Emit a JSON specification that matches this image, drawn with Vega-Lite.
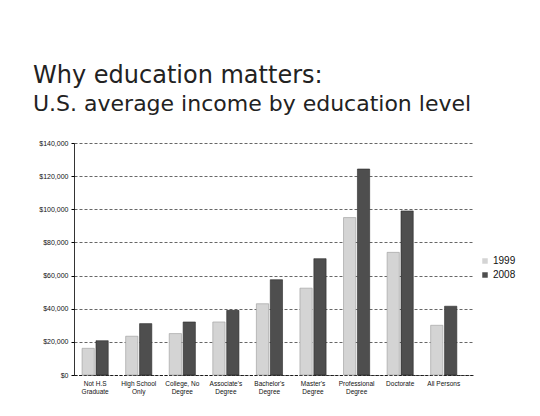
{
  "$schema": "https://vega.github.io/schema/vega-lite/v6.json",
  "width": 400,
  "height": 232,
  "padding": {"left": 33, "top": 64, "right": 5, "bottom": 5},
  "background": "white",
  "title": {
    "text": "Why education matters:",
    "subtitle": "U.S. average income by education level",
    "anchor": "start",
    "frame": "bounds",
    "font": "DejaVu Sans",
    "fontSize": 24,
    "fontWeight": "normal",
    "color": "#222222",
    "subtitleFont": "DejaVu Sans",
    "subtitleFontSize": 22,
    "subtitleColor": "#222222",
    "subtitlePadding": 6,
    "offset": 24
  },
  "data": {
    "values": [
      {"edu": "Not H.S Graduate", "year": "1999", "income": 16100},
      {"edu": "Not H.S Graduate", "year": "2008", "income": 20700},
      {"edu": "High School Only", "year": "1999", "income": 23400},
      {"edu": "High School Only", "year": "2008", "income": 31000},
      {"edu": "College, No Degree", "year": "1999", "income": 25000},
      {"edu": "College, No Degree", "year": "2008", "income": 32000},
      {"edu": "Associate's Degree", "year": "1999", "income": 32000},
      {"edu": "Associate's Degree", "year": "2008", "income": 39000},
      {"edu": "Bachelor's Degree", "year": "1999", "income": 43000},
      {"edu": "Bachelor's Degree", "year": "2008", "income": 57500},
      {"edu": "Master's Degree", "year": "1999", "income": 52400},
      {"edu": "Master's Degree", "year": "2008", "income": 70200},
      {"edu": "Professional Degree", "year": "1999", "income": 95000},
      {"edu": "Professional Degree", "year": "2008", "income": 124300},
      {"edu": "Doctorate", "year": "1999", "income": 74000},
      {"edu": "Doctorate", "year": "2008", "income": 99000},
      {"edu": "All Persons", "year": "1999", "income": 30000},
      {"edu": "All Persons", "year": "2008", "income": 41500}
    ]
  },
  "mark": {"type": "bar", "strokeWidth": 0.6},
  "encoding": {
    "x": {
      "field": "edu",
      "type": "nominal",
      "sort": null,
      "title": null,
      "scale": {"paddingInner": 0.4, "paddingOuter": 0.29, "align": 0.32},
      "axis": {
        "labelAngle": 0,
        "labelFont": "Liberation Sans",
        "labelFontSize": 6.5,
        "labelColor": "#111111",
        "labelExpr": "indexof(datum.label, ' ') < 0 || datum.label == 'All Persons' ? datum.label : [substring(datum.label, 0, lastindexof(datum.label, ' ')), substring(datum.label, lastindexof(datum.label, ' ') + 1)]",
        "labelLineHeight": 8,
        "labelPadding": 5,
        "ticks": false,
        "domainColor": "#000000",
        "domainDash": [3, 1.5],
        "domainWidth": 0.8
      }
    },
    "xOffset": {"field": "year", "type": "nominal", "scale": {"paddingInner": 0.12}},
    "y": {
      "field": "income",
      "type": "quantitative",
      "title": null,
      "scale": {"domain": [0, 140000]},
      "axis": {
        "values": [0, 20000, 40000, 60000, 80000, 100000, 120000, 140000],
        "format": "$,d",
        "labelFont": "Liberation Sans",
        "labelFontSize": 7,
        "labelColor": "#111111",
        "tickSize": 3,
        "tickColor": "#000000",
        "labelPadding": 3,
        "minExtent": 41,
        "maxExtent": 41,
        "domainColor": "#000000",
        "domainWidth": 0.8,
        "grid": true,
        "gridColor": "#000000",
        "gridDash": [3, 2],
        "gridWidth": 0.6
      }
    },
    "color": {
      "field": "year",
      "type": "nominal",
      "scale": {"domain": ["1999", "2008"], "range": ["#d4d4d4", "#4e4e4e"]},
      "legend": {
        "title": null,
        "orient": "none",
        "legendX": 406,
        "legendY": 113,
        "symbolType": "square",
        "symbolSize": 30,
        "symbolStrokeWidth": 0,
        "labelFont": "Liberation Sans",
        "labelFontSize": 10,
        "labelColor": "#111111",
        "rowPadding": 4,
        "labelOffset": 3
      }
    },
    "stroke": {
      "field": "year",
      "type": "nominal",
      "scale": {"domain": ["1999", "2008"], "range": ["#9a9a9a", "#2a2a2a"]},
      "legend": null
    }
  },
  "config": {
    "view": {"stroke": null}
  }
}
